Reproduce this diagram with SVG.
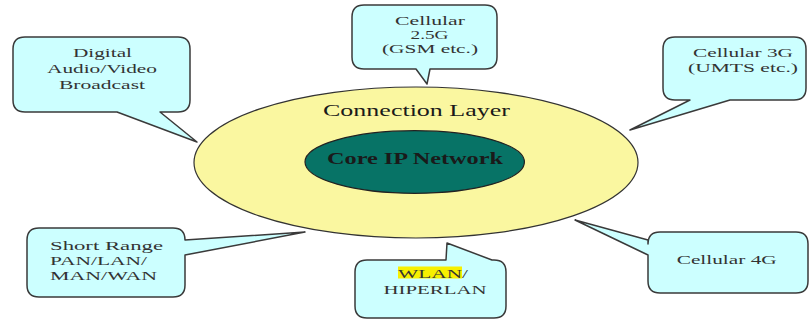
<svg xmlns="http://www.w3.org/2000/svg" width="809" height="320" viewBox="0 0 809 320">
<style>
.call{fill:#ccffff;stroke:#3a3a3a;stroke-width:1.5;stroke-linejoin:round}
.t{font-family:"Liberation Serif","Times New Roman",serif;font-size:12.5px;fill:#333;text-anchor:middle}
.tl{font-family:"Liberation Serif","Times New Roman",serif;font-size:12.5px;fill:#333}
.big{font-family:"Liberation Serif","Times New Roman",serif;font-size:17px;fill:#1a1a1a;text-anchor:middle}
</style>
<rect width="809" height="320" fill="#ffffff"/>
<g id="connection-layer">
<ellipse cx="416" cy="162.5" rx="222" ry="75.5" fill="#faf7a0" stroke="#333" stroke-width="1.2"/>
<text class="big" x="416.5" y="115.5" textLength="187" lengthAdjust="spacingAndGlyphs">Connection Layer</text>
</g>
<g id="core-ip-network">
<ellipse cx="414.7" cy="162" rx="109.7" ry="31.3" fill="#077366" stroke="#222" stroke-width="1.2"/>
<text class="big" x="415" y="164" font-weight="bold" fill="#0b1a18" textLength="176" lengthAdjust="spacingAndGlyphs">Core IP Network</text>
</g>
<g id="connectors"/>
<g id="digital-broadcast">
<path class="call" d="M25,37 H178 Q190,37 190,49 V100 Q190,112 178,112 H160 L197,142 L117,112 H25 Q13,112 13,100 V49 Q13,37 25,37 Z"/>
<text class="t" x="102.5" y="57" textLength="59" lengthAdjust="spacingAndGlyphs">Digital</text>
<text class="t" x="102" y="73" textLength="110" lengthAdjust="spacingAndGlyphs">Audio/Video</text>
<text class="t" x="102" y="88.5" textLength="86" lengthAdjust="spacingAndGlyphs">Broadcast</text>
</g>
<g id="cellular-25g">
<path class="call" d="M364,5 H485 Q497,5 497,17 V57 Q497,69 485,69 H430 L427,84 L416,69 H364 Q352,69 352,57 V17 Q352,5 364,5 Z"/>
<text class="t" x="430" y="24.5" textLength="70" lengthAdjust="spacingAndGlyphs">Cellular</text>
<text class="t" x="429.5" y="38.5" textLength="38" lengthAdjust="spacingAndGlyphs">2.5G</text>
<text class="t" x="430" y="52.5" textLength="96" lengthAdjust="spacingAndGlyphs">(GSM etc.)</text>
</g>
<g id="cellular-3g">
<path class="call" d="M675,37 H794 Q806,37 806,49 V88 Q806,100 794,100 H730 L630,130 L690,100 H675 Q663,100 663,88 V49 Q663,37 675,37 Z"/>
<text class="t" x="743" y="56.5" textLength="100" lengthAdjust="spacingAndGlyphs">Cellular 3G</text>
<text class="t" x="743" y="71.5" textLength="110" lengthAdjust="spacingAndGlyphs">(UMTS etc.)</text>
</g>
<g id="short-range">
<path class="call" d="M39,228 H173 Q185,228 185,240 L305,232 L185,255 V285 Q185,297 173,297 H39 Q27,297 27,285 V240 Q27,228 39,228 Z"/>
<text class="tl" x="50" y="249.5" textLength="113" lengthAdjust="spacingAndGlyphs">Short Range</text>
<text class="tl" x="50" y="265" textLength="97" lengthAdjust="spacingAndGlyphs">PAN/LAN/</text>
<text class="tl" x="50" y="280" textLength="107" lengthAdjust="spacingAndGlyphs">MAN/WAN</text>
</g>
<g id="wlan">
<path class="call" d="M367,260 H446 L447,243 L492,260 H494 Q506,260 506,272 V306 Q506,318 494,318 H367 Q355,318 355,306 V272 Q355,260 367,260 Z"/>
<rect x="398" y="266.5" width="64" height="12" fill="#f7f000"/>
<text class="tl" x="398" y="277.5" textLength="70" lengthAdjust="spacingAndGlyphs">WLAN/</text>
<text class="t" x="435" y="293.5" textLength="103" lengthAdjust="spacingAndGlyphs">HIPERLAN</text>
</g>
<g id="cellular-4g">
<path class="call" d="M660,232 H796 Q808,232 808,244 V281 Q808,293 796,293 H660 Q648,293 648,281 V255 L575,220 L648,240 V244 Q648,232 660,232 Z"/>
<text class="t" x="726.7" y="264" textLength="100" lengthAdjust="spacingAndGlyphs">Cellular 4G</text>
</g>
</svg>
